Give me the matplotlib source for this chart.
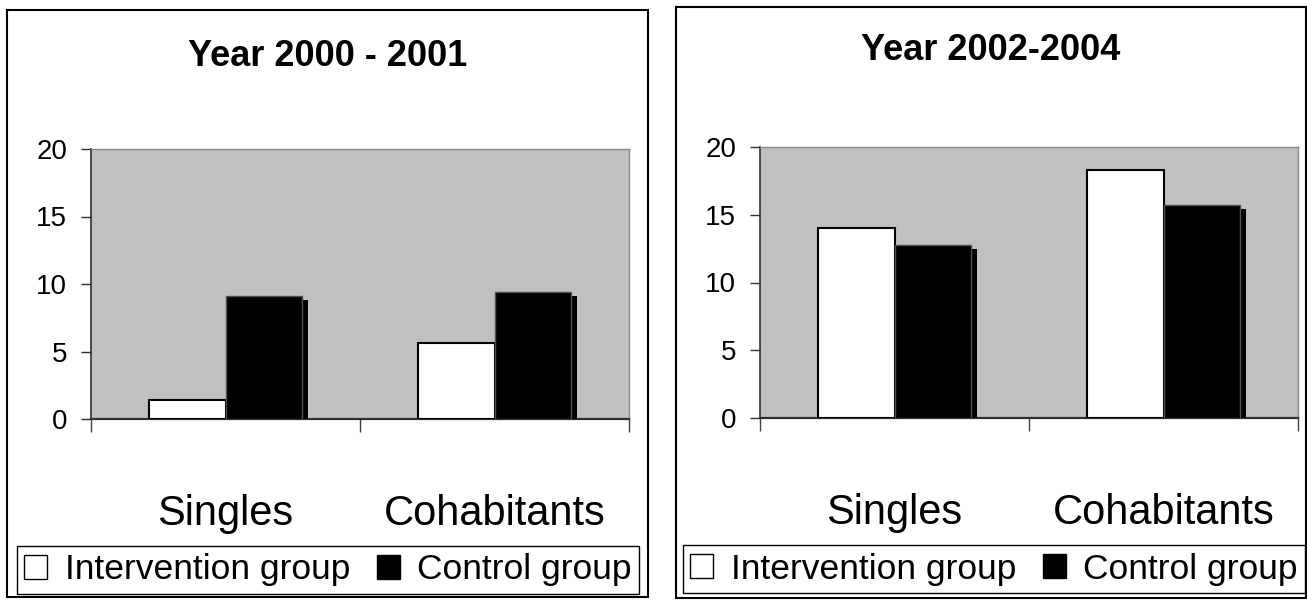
import matplotlib
matplotlib.use("Agg")
import matplotlib.pyplot as plt
import matplotlib.patheffects as pe
from matplotlib.patches import Patch, Rectangle
import numpy as np

plt.rcParams["font.family"] = ["Liberation Sans", "DejaVu Sans"]

# data
categories = ["Singles", "Cohabitants"]
titles = ["Year 2000 - 2001", "Year 2002-2004"]
series_labels = ["Intervention group", "Control group"]
intervention_2000_2001 = [1.4, 5.6]
control_2000_2001 = [9.1, 9.4]
intervention_2002_2004 = [14.0, 18.3]
control_2002_2004 = [12.8, 15.7]
y_ticks = [0, 5, 10, 15, 20]

W, H = 1307, 600
fig = plt.figure(figsize=(W / 100, H / 100), dpi=100)


def fx(x):
    return x / W


def fy(y):
    return 1 - y / H


def panel(box, plot, title_y, title, intervention, control, legend_box):
    bx0, by0, bx1, by1 = box
    fig.patches.append(Rectangle((fx(bx0), fy(by1)), fx(bx1 - bx0), (by1 - by0) / H,
                                 transform=fig.transFigure, fill=False, ec="black", lw=1.5))
    px0, py0, px1, py1 = plot
    ax = fig.add_axes([fx(px0), fy(py1), fx(px1 - px0), (py1 - py0) / H])
    ax.set_facecolor("#c0c0c0")
    x = np.arange(len(categories))
    w = 0.286
    ax.bar(x - w / 2, intervention, w, color="white", edgecolor="black", linewidth=1.5, zorder=3)
    ax.bar(x + w / 2, control, w, color="black", edgecolor="#505050", linewidth=1, zorder=3,
           path_effects=[pe.SimplePatchShadow(offset=(4.3, -2.9), shadow_rgbFace="black", alpha=1.0),
                         pe.Normal()])
    ax.set_xlim(-0.5, len(categories) - 0.5)
    ax.set_ylim(0, 20)
    ax.set_yticks(y_ticks)
    ax.tick_params(axis="y", length=7.2, width=1, color="#303030", pad=10, labelsize=20)
    ax.set_xticks(np.arange(len(categories) + 1) - 0.5)
    ax.set_xticklabels([])
    ax.tick_params(axis="x", which="major", length=9.5, width=1, color="#404040")
    ax.set_xticks(x, categories, minor=True)
    ax.tick_params(axis="x", which="minor", length=0, pad=54, labelsize=30)
    for side in ("top", "right"):
        ax.spines[side].set_color("#8a8a8a")
        ax.spines[side].set_linewidth(1)
    ax.spines["left"].set_color("#303030")
    ax.spines["left"].set_linewidth(1.2)
    ax.spines["bottom"].set_color("#303030")
    ax.spines["bottom"].set_linewidth(1.6)

    fig.text(fx((bx0 + bx1) / 2), fy(title_y), title, ha="center", va="center",
             fontsize=26, fontweight="bold")

    handles = [Patch(facecolor="white", edgecolor="black", linewidth=1),
               Patch(facecolor="black", edgecolor="black", linewidth=1)]
    lx0, ly0, lx1, ly1 = legend_box
    leg = fig.legend(handles, series_labels, ncol=2, loc="center",
                     bbox_to_anchor=(fx((lx0 + lx1) / 2), fy((ly0 + ly1) / 2)),
                     bbox_transform=fig.transFigure, fontsize=25.5, frameon=True,
                     fancybox=False, edgecolor="black", framealpha=1, borderpad=0.2,
                     handlelength=0.65, handleheight=0.65, handletextpad=0.5,
                     columnspacing=0.75, borderaxespad=0)
    leg.get_frame().set_linewidth(1)
    return ax


panel((7, 10, 648, 597), (91, 149, 629, 419), 57, titles[0],
      intervention_2000_2001, control_2000_2001, (15, 543, 641, 597))
panel((676, 7, 1305.5, 598), (760, 147, 1298, 418), 50, titles[1],
      intervention_2002_2004, control_2002_2004, (684, 541, 1304, 597))

fig.savefig("out.png", dpi=100)
